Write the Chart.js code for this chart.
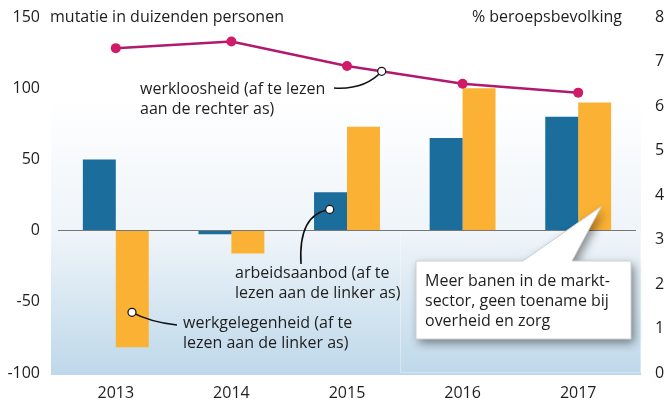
<!DOCTYPE html>
<html>
<head>
<meta charset="utf-8">
<script src="https://cdn.jsdelivr.net/npm/chart.js@4/dist/chart.umd.min.js"></script>
<style>
  html, body { margin: 0; padding: 0; background: #fff; }
  #wrap { width: 667px; height: 405px; position: relative; }
</style>
</head>
<body>
<div id="wrap"><canvas id="chart" width="667" height="405"></canvas></div>
<script>
// data
const years = ["2013", "2014", "2015", "2016", "2017"];
const arbeidsaanbod = [50, -2.5, 27, 65, 80];
const werkgelegenheid = [-82, -16, 73, 100, 90];
const werkloosheid = [7.3, 7.45, 6.9, 6.5, 6.3];
const leftTicks = [-100, -50, 0, 50, 100, 150];
const rightTicks = [0, 1, 2, 3, 4, 5, 6, 7, 8];

const FONT = "'Open Sans', sans-serif";
const TEXT = "#1e1e1e";
const BLUE = "#1b6e9c";
const ORANGE = "#fbb133";
const LINE = "#b0196e";
const DOT = "#cf1b68";

// gradient panel behind the bars
const panelPlugin = {
  id: "panel",
  beforeDraw(chart) {
    const { ctx, chartArea: a } = chart;
    const y = chart.scales.y;
    const top = y.getPixelForValue(94);
    const bottom = a.bottom + 2;
    const g = ctx.createLinearGradient(0, top, 0, bottom);
    g.addColorStop(0, "#ffffff");
    g.addColorStop(0.5, "#eef4f9");
    g.addColorStop(1, "#bed8ea");
    ctx.save();
    ctx.fillStyle = g;
    ctx.fillRect(a.left - 7, top, a.right - a.left + 12, bottom - top);
    // faint inner box on the right
    ctx.strokeStyle = "rgba(255,255,255,0.35)";
    ctx.lineWidth = 1;
    ctx.strokeRect(a.left + 342.5, y.getPixelForValue(0) + 1.5, 240, bottom - y.getPixelForValue(0) - 4);
    ctx.restore();
  }
};

function leader(ctx, x0, y0, cx, cy, x1, y1) {
  ctx.beginPath();
  ctx.moveTo(x0, y0);
  ctx.quadraticCurveTo(cx, cy, x1, y1);
  ctx.strokeStyle = "#111";
  ctx.lineWidth = 1.6;
  ctx.stroke();
}
function ring(ctx, x, y) {
  ctx.beginPath();
  ctx.arc(x, y, 4, 0, Math.PI * 2);
  ctx.fillStyle = "#fff";
  ctx.fill();
  ctx.strokeStyle = "#111";
  ctx.lineWidth = 1.2;
  ctx.stroke();
}
function text(ctx, s, x, y) {
  ctx.fillStyle = TEXT;
  ctx.fillText(s, x, y);
}

const notesPlugin = {
  id: "notes",
  afterDatasetsDraw(chart) {
    const { ctx } = chart;
    const x = chart.scales.x, y = chart.scales.y, y1 = chart.scales.y1;
    const step = x.getPixelForValue(1) - x.getPixelForValue(0);
    ctx.save();
    ctx.font = "16px " + FONT;
    ctx.textBaseline = "middle";

    // werkloosheid
    const lx = x.getPixelForValue(2) + step * 0.3;
    const ly = y1.getPixelForValue(werkloosheid[2] + (werkloosheid[3] - werkloosheid[2]) * 0.3);
    leader(ctx, 334, 88, 365, 90, lx, ly);
    ring(ctx, lx, ly);
    text(ctx, "werkloosheid (af te lezen", 140, 89);
    text(ctx, "aan de rechter as)", 140, 109);

    // arbeidsaanbod
    const ax = x.getPixelForValue(2) - step * 0.15;
    const ay = y.getPixelForValue(arbeidsaanbod[2] * 0.55);
    leader(ctx, 301, 264, 298, 214, ax, ay);
    ring(ctx, ax, ay);
    text(ctx, "arbeidsaanbod (af te", 235, 273);
    text(ctx, "lezen aan de linker as)", 235, 293);

    // werkgelegenheid
    const wx = x.getPixelForValue(0) + step * 0.14;
    const wy = y.getPixelForValue(werkgelegenheid[0] * 0.7);
    leader(ctx, wx, wy, 150, 322, 177, 325);
    ring(ctx, wx, wy);
    text(ctx, "werkgelegenheid (af te", 183, 323);
    text(ctx, "lezen aan de linker as)", 183, 343);

    // callout
    const tipX = x.getPixelForValue(4) + step * 0.2;
    const tipY = y.getPixelForValue(17);
    const bx = 416, by = 261, bw = 215, bh = 78;
    ctx.save();
    ctx.shadowColor = "rgba(0,0,0,0.45)";
    ctx.shadowBlur = 10;
    ctx.shadowOffsetX = 3;
    ctx.shadowOffsetY = 4;
    ctx.beginPath();
    ctx.moveTo(bx, by);
    ctx.lineTo(bx + 107, by);
    ctx.lineTo(tipX, tipY);
    ctx.lineTo(bx + 156, by);
    ctx.lineTo(bx + bw, by);
    ctx.lineTo(bx + bw, by + bh);
    ctx.lineTo(bx, by + bh);
    ctx.closePath();
    ctx.fillStyle = "#fff";
    ctx.fill();
    ctx.restore();
    ctx.strokeStyle = "#d0d0d0";
    ctx.lineWidth = 1;
    ctx.stroke();
    text(ctx, "Meer banen in de markt-", bx + 9, by + 20);
    text(ctx, "sector, geen toename bij", bx + 9, by + 40);
    text(ctx, "overheid en zorg", bx + 9, by + 60);

    // axis titles
    ctx.textAlign = "left";
    text(ctx, "mutatie in duizenden personen", 50, 17);
    ctx.textAlign = "right";
    text(ctx, "% beroepsbevolking", 622, 17);
    ctx.restore();
  }
};

const noPad = (w) => (s) => { s.width = w; s.paddingTop = 0; s.paddingBottom = 0; };

new Chart(document.getElementById("chart"), {
  data: {
    labels: years,
    datasets: [
      {
        type: "line", label: "werkloosheid", data: werkloosheid, yAxisID: "y1",
        borderColor: LINE, borderWidth: 2.5, pointRadius: 5, pointBackgroundColor: DOT,
        pointBorderWidth: 0, tension: 0, order: 0
      },
      {
        type: "bar", label: "arbeidsaanbod", data: arbeidsaanbod, yAxisID: "y",
        backgroundColor: BLUE, categoryPercentage: 0.57, barPercentage: 1, order: 1
      },
      {
        type: "bar", label: "werkgelegenheid", data: werkgelegenheid, yAxisID: "y",
        backgroundColor: ORANGE, categoryPercentage: 0.57, barPercentage: 1, order: 1
      }
    ]
  },
  options: {
    responsive: false,
    animation: false,
    layout: { padding: { top: 17, bottom: 0, left: 0, right: 0 } },
    plugins: { legend: { display: false }, tooltip: { enabled: false } },
    scales: {
      x: {
        afterFit: (s) => { s.height = 32; s.paddingLeft = 0; s.paddingRight = 0; },
        grid: { display: false },
        border: { display: false },
        ticks: { color: TEXT, font: { family: FONT, size: 16 }, padding: 3 }
      },
      y: {
        position: "left",
        min: -100, max: 150,
        afterBuildTicks: (s) => { s.ticks = leftTicks.map(v => ({ value: v })); },
        afterFit: noPad(58),
        grid: {
          drawTicks: false,
          color: (c) => c.tick && c.tick.value === 0 ? "#777" : "transparent",
          lineWidth: 1
        },
        border: { display: false },
        ticks: { color: TEXT, font: { family: FONT, size: 16 }, padding: 18 }
      },
      y1: {
        position: "right",
        min: 0, max: 8,
        afterBuildTicks: (s) => { s.ticks = rightTicks.map(v => ({ value: v })); },
        afterFit: noPad(31),
        grid: { display: false },
        border: { display: false },
        ticks: { color: TEXT, font: { family: FONT, size: 16 }, padding: 11 }
      }
    }
  },
  plugins: [panelPlugin, notesPlugin]
});
</script>
</body>
</html>
